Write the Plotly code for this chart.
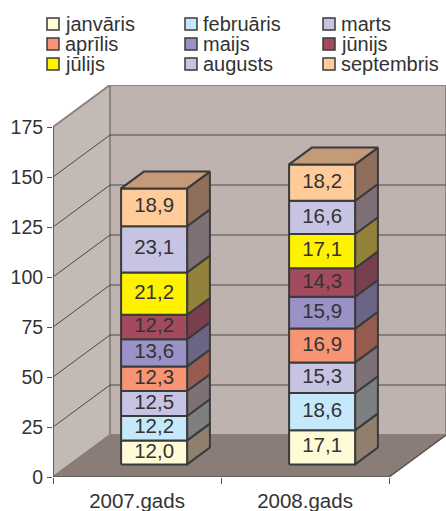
import plotly.graph_objects as go

# values, bottom to top of each stack
categories = ['2007.gads', '2008.gads']
months = ['janvāris', 'februāris', 'marts', 'aprīlis', 'maijs', 'jūnijs', 'jūlijs', 'augusts', 'septembris']
values_2007 = [12.0, 12.2, 12.5, 12.3, 13.6, 12.2, 21.2, 23.1, 18.9]
values_2008 = [17.1, 18.6, 15.3, 16.9, 15.9, 14.3, 17.1, 16.6, 18.2]
y_ticks = [0, 25, 50, 75, 100, 125, 150, 175]

front_colors = ['#FFFBD6', '#C5E8FA', '#C7C3E2', '#F79473', '#9A92C6', '#A44A5E', '#FFF200', '#C7C3E2', '#FFCC99']
side_colors = ['#8F7F6C', '#7D7F80', '#7F7078', '#965C50', '#6C6484', '#78404E', '#93833A', '#7F7078', '#8F6F5C']
top_color = '#C49A78'

TEXT = '#333333'
EDGE = '#3A3A3A'
WALL = '#BEB3AF'
SIDE_WALL = '#C3B9B5'
FLOOR = '#8A7C76'
WALL_EDGE = '#8E827D'
FONT = 'Liberation Sans'

# depth of the fake 3d box, in axis units (57px / 42px on screen)
depth_x = 57 / 168
depth_y = 21
bar_width = 66 / 168
y_max = 175

fig = go.Figure()


def poly(xs, ys, fill, line_color, line_width):
    fig.add_trace(go.Scatter(x=xs + xs[:1], y=ys + ys[:1], mode='lines', fill='toself', fillcolor=fill,
                             line=dict(color=line_color, width=line_width), hoverinfo='skip', showlegend=False))


def seg(xs, ys, color, width):
    fig.add_trace(go.Scatter(x=xs, y=ys, mode='lines', line=dict(color=color, width=width),
                             hoverinfo='skip', showlegend=False))


# walls and floor
poly([depth_x, 2 + depth_x, 2 + depth_x, depth_x], [depth_y, depth_y, y_max + depth_y, y_max + depth_y], WALL, WALL_EDGE, 2)
poly([0, depth_x, depth_x, 0], [0, depth_y, y_max + depth_y, y_max], SIDE_WALL, WALL_EDGE, 2)
poly([0, 2, 2 + depth_x, depth_x], [0, 0, depth_y, depth_y], FLOOR, FLOOR, 1)

# gridlines on both walls
for t in y_ticks[1:-1]:
    seg([0, depth_x, 2 + depth_x], [t, t + depth_y, t + depth_y], '#4A4A4A', 1)

# floor edge
seg([0, 2, 2 + depth_x], [0, 0, depth_y], '#555555', 1.5)
seg([0, 0], [0, y_max], '#555555', 1.5)

# stacked boxes
for c, vals in enumerate([values_2007, values_2008]):
    x0 = c + 0.5 - bar_width / 2 + 0.3 * depth_x
    x1 = x0 + bar_width
    ox = 0.4 * depth_x
    oy = 0.4 * depth_y
    base = 0.3 * depth_y
    for i, v in enumerate(vals):
        top = base + v
        poly([x1, x1 + ox, x1 + ox, x1], [base, base + oy, top + oy, top], side_colors[i], EDGE, 2)
        poly([x0, x1, x1, x0], [base, base, top, top], front_colors[i], EDGE, 2)
        fig.add_trace(go.Scatter(x=[(x0 + x1) / 2], y=[base + v / 2], mode='text',
                                 text=[f'{v:.1f}'.replace('.', ',')], textposition='middle center',
                                 textfont=dict(family=FONT, size=20.5, color=TEXT),
                                 hoverinfo='skip', showlegend=False))
        base = top
    poly([x0, x1, x1 + ox, x0 + ox], [base, base, base + oy, base + oy], top_color, EDGE, 2)

# legend, 3 columns by 3 rows, tighter than plotly's own legend allows
legend_x = [47, 185, 323]
legend_y = [24, 44, 64]
shapes = []
annotations = []
for i, m in enumerate(months):
    lx = legend_x[i % 3]
    ly = legend_y[i // 3]
    shapes.append(dict(type='rect', xref='paper', yref='paper',
                       x0=(lx - 53) / 393, x1=(lx + 12 - 53) / 393,
                       y0=(477 - ly - 6) / 392, y1=(477 - ly + 6) / 392,
                       fillcolor=front_colors[i], line=dict(color=EDGE, width=1.5)))
    annotations.append(dict(text=m, xref='paper', yref='paper', showarrow=False, xanchor='left', yanchor='middle',
                            x=(lx + 16 - 53) / 393, y=(477 - ly) / 392,
                            font=dict(family=FONT, size=20, color=TEXT)))

fig.update_layout(
    width=446, height=511, margin=dict(l=53, r=0, t=85, b=34),
    paper_bgcolor='white', plot_bgcolor='white', showlegend=False,
    shapes=shapes, annotations=annotations,
    xaxis=dict(range=[0, 393 / 168], tickvals=[0.5, 1.5], ticktext=categories, showgrid=False, zeroline=False,
               ticks='', ticklabelstandoff=9, tickfont=dict(family=FONT, size=20.5, color=TEXT), fixedrange=True,
               minor=dict(tickvals=[0, 1, 2], ticks='outside', ticklen=6, tickcolor='#555555', showgrid=False)),
    yaxis=dict(range=[0, 196], tickvals=y_ticks, showgrid=False, zeroline=False, ticks='outside', ticklen=5,
               tickcolor='#555555', tickfont=dict(family=FONT, size=19.5, color=TEXT), fixedrange=True),
)

# drop the page's body margin so the figure fills the window exactly
fig.write_html("out.html", config=dict(displayModeBar=False),
               post_script="document.body.style.margin='0';document.body.style.overflow='hidden';")
